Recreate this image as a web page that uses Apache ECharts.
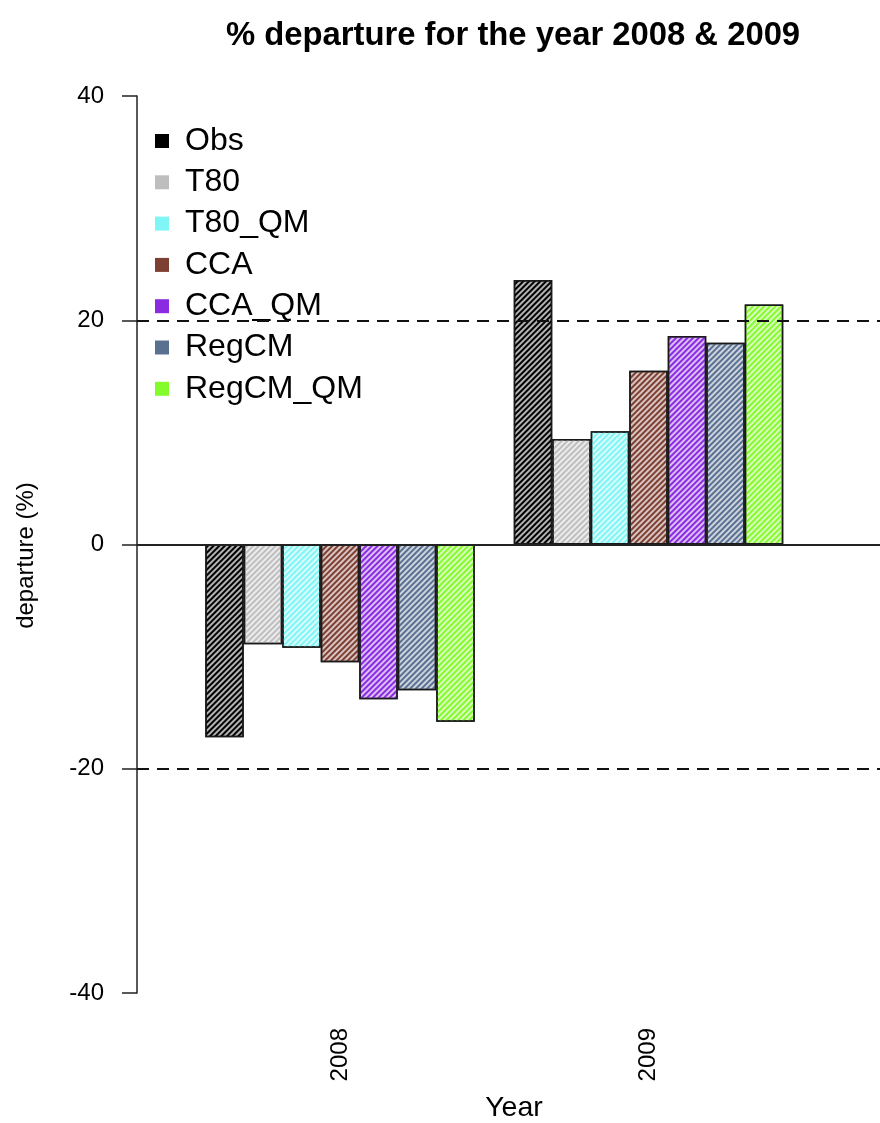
<!DOCTYPE html>
<html>
<head>
<meta charset="utf-8">
<script src="https://cdn.jsdelivr.net/npm/echarts@6/dist/echarts.min.js"></script>
<style>html,body{margin:0;padding:0;background:#fff}#c{width:880px;height:1123px}</style>
</head>
<body>
<div id="c"></div>
<script>
// ---- data ----
const years = ['2008', '2009'];
const seriesNames = ['Obs', 'T80', 'T80_QM', 'CCA', 'CCA_QM', 'RegCM', 'RegCM_QM'];
const obs      = [-17.2, 23.6];
const t80      = [-8.9, 9.4];
const t80qm    = [-9.2, 10.1];
const cca      = [-10.5, 15.5];
const ccaqm    = [-13.8, 18.6];
const regcm    = [-13.0, 18.0];
const regcmqm  = [-15.8, 21.4];
const yTicks   = [-40, -20, 0, 20, 40];
const refLines = [-20, 20];

const values = [obs, t80, t80qm, cca, ccaqm, regcm, regcmqm];
const colors = ['#000000', '#bebebe', '#7ff5f5', '#7e3f33', '#8a2be2', '#5a7090', '#84fc2c'];

const FONT = '"Liberation Sans", Arial, sans-serif';

function tint(hex, f) {
  const n = parseInt(hex.slice(1), 16);
  const r = (n >> 16) & 255, g = (n >> 8) & 255, b = n & 255;
  const m = c => Math.round(255 - (255 - c) * f);
  return 'rgb(' + m(r) + ',' + m(g) + ',' + m(b) + ')';
}

const barSeries = seriesNames.map((name, i) => ({
  name: name,
  type: 'bar',
  xAxisIndex: 0,
  yAxisIndex: 0,
  barWidth: 38.5,
  barGap: '0%',
  data: values[i],
  itemStyle: {
    color: tint(colors[i], 0.3),
    borderColor: '#1a1a1a',
    borderWidth: 1.5,
    decal: {
      symbol: 'rect',
      symbolSize: 1,
      dashArrayX: [1, 0],
      dashArrayY: [2, 1.5],
      rotation: -Math.PI / 4,
      color: colors[i]
    }
  },
  emphasis: { disabled: true },
  z: 2
}));

const chart = echarts.init(document.getElementById('c'), null, { renderer: 'canvas' });
chart.setOption({
  animation: false,
  backgroundColor: '#ffffff',
  title: {
    text: '% departure for the year 2008 & 2009',
    left: 508,
    top: 14,
    textAlign: 'center',
    textStyle: { fontFamily: FONT, fontWeight: 'bold', fontSize: 32.8, color: '#000' }
  },
  legend: {
    orient: 'vertical',
    left: 150,
    top: 120,
    padding: 5,
    itemWidth: 14,
    itemHeight: 14,
    itemGap: 9.3,
    icon: 'rect',
    selectedMode: false,
    textStyle: { fontFamily: FONT, fontSize: 32, color: '#000', padding: [0, 0, 0, 11] },
    data: seriesNames.map((n, i) => ({
      name: n,
      itemStyle: { color: colors[i], decal: 'none', borderWidth: 0 }
    }))
  },
  grid: [
    { left: 185.75, width: 617, top: 96, height: 897, outerBoundsMode: 'none', containLabel: false },
    { left: 137, width: 754, top: 96, height: 897, outerBoundsMode: 'none', containLabel: false }
  ],
  xAxis: [
    {
      type: 'category', gridIndex: 0, data: years,
      axisLine: { show: false }, axisTick: { show: false },
      axisLabel: { rotate: 90, margin: 35, fontFamily: FONT, fontSize: 24, color: '#000' }
    },
    {
      type: 'value', gridIndex: 1, min: 0, max: 1,
      axisLine: { show: false }, axisTick: { show: false }, axisLabel: { show: false },
      splitLine: { show: false },
      name: 'Year', nameLocation: 'middle', nameGap: 101,
      nameTextStyle: { fontFamily: FONT, fontSize: 28.5, color: '#000' }
    }
  ],
  yAxis: [
    {
      type: 'value', gridIndex: 0, min: yTicks[0], max: yTicks[yTicks.length - 1], interval: 20,
      offset: 48.75,
      axisLine: { show: true, lineStyle: { color: '#222', width: 1.5 } },
      axisTick: { show: true, length: 15, lineStyle: { color: '#222', width: 1.5 } },
      axisLabel: { margin: 33, fontFamily: FONT, fontSize: 24, color: '#000' },
      splitLine: { show: false },
      name: 'departure (%)', nameLocation: 'middle', nameGap: 99,
      nameRotate: 90,
      nameTextStyle: { fontFamily: FONT, fontSize: 24, color: '#000', padding: [0, 22, 0, 0] }
    },
    {
      type: 'value', gridIndex: 1, min: yTicks[0], max: yTicks[yTicks.length - 1], interval: 20,
      show: false
    }
  ],
  series: barSeries.concat([{
    type: 'line',
    xAxisIndex: 1,
    yAxisIndex: 1,
    data: [],
    silent: true,
    z: 5,
    markLine: {
      silent: true,
      symbol: ['none', 'none'],
      label: { show: false },
      animation: false,
      data: [
        { yAxis: 0, lineStyle: { type: 'solid', color: '#222', width: 1.8 } }
      ].concat(refLines.map(v => ({ yAxis: v, lineStyle: { type: [12, 8], color: '#111', width: 1.8 } })))
    }
  }])
});
</script>
</body>
</html>
